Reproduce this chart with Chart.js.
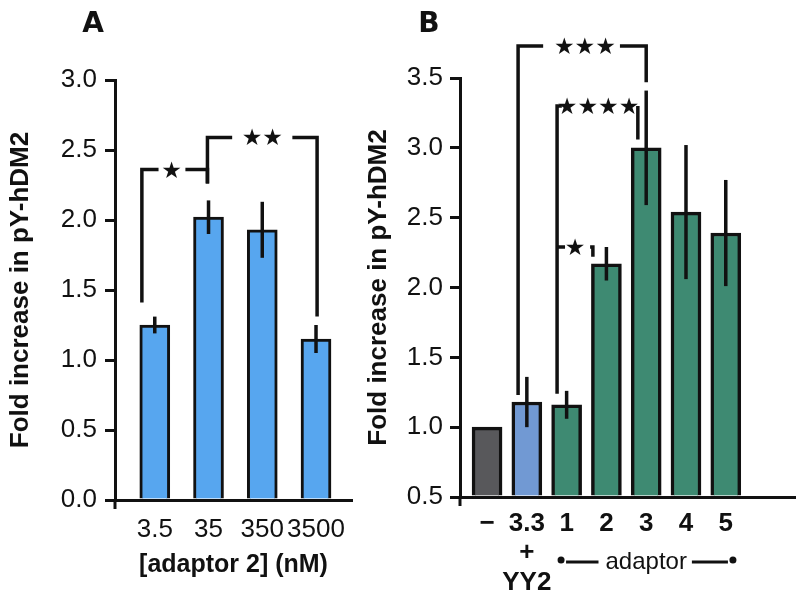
<!DOCTYPE html>
<html>
<head>
<meta charset="utf-8">
<script src="https://cdn.jsdelivr.net/npm/chart.js@4.4.1/dist/chart.umd.min.js"></script>
<style>
  html, body { margin: 0; padding: 0; background: #fff; }
  #wrap { position: relative; width: 800px; height: 599px; overflow: hidden; }
  #chartA { position: absolute; left: 0; top: 0; }
  #chartB { position: absolute; left: 360px; top: 0; }
</style>
</head>
<body>
<div id="wrap">
  <canvas id="chartA" width="360" height="599"></canvas>
  <canvas id="chartB" width="440" height="599"></canvas>
</div>
<script>
// panel A: adaptor 2 dose series
const labelsA = ['3.5', '35', '350', '3500'];
const valuesA = [1.25, 2.02, 1.93, 1.15];
const errorsA = [0.06, 0.12, 0.20, 0.10];
const yTicksA = [0, 0.5, 1, 1.5, 2, 2.5, 3];

// panel B: control, YY2 and adaptors 1-5
const labelsB = [['−'], ['3.3', '+', 'YY2'], ['1'], ['2'], ['3'], ['4'], ['5']];
const valuesB = [1.0, 1.18, 1.16, 2.17, 3.0, 2.54, 2.39];
const errorsB = [0, 0.18, 0.10, 0.12, 0.41, 0.48, 0.38];
const colorsB = ['#58585b', '#7199d3', '#3e8a72', '#3e8a72', '#3e8a72', '#3e8a72', '#3e8a72'];
const yTicksB = [0.5, 1, 1.5, 2, 2.5, 3, 3.5];

// significance brackets, data units:
// [x left, x right, top, left foot, right foot, gap start, gap end, star x, stars]
const bracketsA = [
  [0.76, 1.98, 2.36, 1.41, 2.26, 1.07, 1.57, 1.31, '★'],
  [1.98, 4.02, 2.59, 2.26, 1.31, 2.44, 3.56, 3.0, '★★']
];
const bracketsB = [
  [1.78, 5.0, 3.73, 1.23, 3.47, 2.41, 4.34, 3.46, '★★★'],
  [2.76, 4.79, 3.30, 1.24, 3.06, 2.88, 4.79, 3.79, '★★★★'],
  [2.76, 3.66, 2.29, 2.29, 2.22, 2.96, 3.59, 3.21, '★']
];

const INK = '#111';
Chart.defaults.font.family = "'Liberation Sans', Arial, sans-serif";
Chart.defaults.color = INK;

function makeAnnotate(cfg) {
  return {
    id: 'annotate' + cfg.letter,
    afterDatasetsDraw(chart) {
      const ctx = chart.ctx;
      const xs = chart.scales.x, ys = chart.scales.y;
      const area = chart.chartArea;
      ctx.save();
      ctx.strokeStyle = INK;
      ctx.fillStyle = INK;
      ctx.lineCap = 'butt';
      ctx.lineJoin = 'miter';

      // error bars
      ctx.lineWidth = 3.5;
      cfg.values.forEach((v, i) => {
        const e = cfg.errors[i];
        if (!e) return;
        const px = xs.getPixelForValue(i + 1);
        ctx.beginPath();
        ctx.moveTo(px, ys.getPixelForValue(v + e));
        ctx.lineTo(px, ys.getPixelForValue(v - e));
        ctx.stroke();
      });

      // y axis runs a little below the x axis
      ctx.lineWidth = 3;
      ctx.beginPath();
      ctx.moveTo(area.left, area.bottom);
      ctx.lineTo(area.left, area.bottom + 9);
      ctx.stroke();

      // brackets
      ctx.lineWidth = 3.5;
      ctx.font = "23px 'DejaVu Sans'";
      ctx.textAlign = 'center';
      ctx.textBaseline = 'middle';
      cfg.brackets.forEach(b => {
        const [x1, x2, yt, f1, f2, gl, gr, lx, stars] = b;
        const top = ys.getPixelForValue(yt);
        ctx.beginPath();
        ctx.moveTo(xs.getPixelForValue(x1), ys.getPixelForValue(f1));
        ctx.lineTo(xs.getPixelForValue(x1), top);
        ctx.lineTo(xs.getPixelForValue(gl), top);
        ctx.moveTo(xs.getPixelForValue(gr), top);
        ctx.lineTo(xs.getPixelForValue(x2), top);
        ctx.lineTo(xs.getPixelForValue(x2), ys.getPixelForValue(f2));
        ctx.stroke();
        ctx.fillText(stars, xs.getPixelForValue(lx), top + 2);
      });

      // panel letter
      ctx.font = "bold 28px 'DejaVu Sans'";
      ctx.fillText(cfg.letter, cfg.letterX, 25);

      if (cfg.extra) cfg.extra(chart, ctx);
      ctx.restore();
    }
  };
}

// "•— adaptor —•" row under panel B
function adaptorRow(chart, ctx) {
  const xs = chart.scales.x;
  const base = chart.chartArea.bottom;
  const cx = xs.getPixelForValue(5);
  const left = xs.getPixelForValue(2.86);
  const right = xs.getPixelForValue(7.18);
  ctx.font = "24px 'Liberation Sans', Arial, sans-serif";
  ctx.textAlign = 'center';
  ctx.textBaseline = 'alphabetic';
  const w = ctx.measureText('adaptor').width;
  ctx.fillText('adaptor', cx, base + 72);
  ctx.lineWidth = 3;
  ctx.beginPath();
  ctx.moveTo(left + 5, base + 65);
  ctx.lineTo(cx - w / 2 - 7, base + 65);
  ctx.moveTo(cx + w / 2 + 5, base + 65);
  ctx.lineTo(right - 5, base + 65);
  ctx.stroke();
  [left, right].forEach(px => {
    ctx.beginPath();
    ctx.arc(px, base + 63, 3.5, 0, Math.PI * 2);
    ctx.fill();
  });
}

new Chart(document.getElementById('chartA'), {
  type: 'bar',
  data: {
    datasets: [{
      data: valuesA.map((v, i) => ({ x: i + 1, y: v })),
      backgroundColor: '#57a6ef',
      borderColor: INK,
      borderWidth: 3,
      borderSkipped: 'start',
      barThickness: 30
    }]
  },
  options: {
    responsive: false,
    animation: false,
    layout: { padding: { left: 0, top: 80, right: 7, bottom: 0 } },
    plugins: { legend: { display: false }, tooltip: { enabled: false } },
    scales: {
      x: {
        type: 'linear', min: 0.26, max: 4.67, offset: false,
        afterBuildTicks: s => { s.ticks = labelsA.map((_, i) => ({ value: i + 1 })); },
        afterFit: s => { s.height = 99; },
        grid: { display: false, drawTicks: false },
        border: { color: INK, width: 3 },
        ticks: { autoSkip: false, maxRotation: 0, minRotation: 0, padding: 14, font: { size: 26 }, callback: v => labelsA[v - 1] },
        title: { display: true, text: '[adaptor 2] (nM)', font: { size: 25, weight: 'bold' }, padding: { top: 0, bottom: 19 } }
      },
      y: {
        min: 0, max: 3,
        afterBuildTicks: s => { s.ticks = yTicksA.map(v => ({ value: v })); },
        afterFit: s => { s.width = 115; },
        grid: { drawOnChartArea: false, drawTicks: true, tickLength: 10, color: INK, lineWidth: 3 },
        border: { color: INK, width: 3 },
        ticks: { padding: 8, font: { size: 26 }, callback: v => v.toFixed(1) },
        title: { display: true, text: 'Fold increase in pY-hDM2', font: { size: 26, weight: 'bold' }, padding: { top: 5, bottom: 0 } }
      }
    }
  },
  plugins: [makeAnnotate({ letter: 'A', letterX: 93, values: valuesA, errors: errorsA, brackets: bracketsA })]
});

new Chart(document.getElementById('chartB'), {
  type: 'bar',
  data: {
    datasets: [{
      data: valuesB.map((v, i) => ({ x: i + 1, y: v })),
      backgroundColor: colorsB,
      borderColor: INK,
      borderWidth: 3.5,
      borderSkipped: 'start',
      barThickness: 30,
      base: 0.5
    }]
  },
  options: {
    responsive: false,
    animation: false,
    layout: { padding: { left: 0, top: 78, right: 5, bottom: 0 } },
    plugins: { legend: { display: false }, tooltip: { enabled: false } },
    scales: {
      x: {
        type: 'linear', min: 0.32, max: 8.74, offset: false,
        afterBuildTicks: s => { s.ticks = labelsB.map((_, i) => ({ value: i + 1 })); },
        afterFit: s => { s.height = 102; },
        grid: { display: false, drawTicks: false },
        border: { color: INK, width: 3 },
        ticks: { autoSkip: false, maxRotation: 0, minRotation: 0, padding: 12, font: { size: 26, weight: 'bold', lineHeight: 1.13 }, callback: v => labelsB[v - 1] }
      },
      y: {
        min: 0.5, max: 3.5,
        afterBuildTicks: s => { s.ticks = yTicksB.map(v => ({ value: v })); },
        afterFit: s => { s.width = 100; },
        grid: { drawOnChartArea: false, drawTicks: true, tickLength: 10, color: INK, lineWidth: 3 },
        border: { color: INK, width: 3 },
        ticks: { padding: 7, font: { size: 26 }, callback: v => v.toFixed(1) },
        title: { display: true, text: 'Fold increase in pY-hDM2', font: { size: 26, weight: 'bold' }, padding: { top: 3, bottom: 0 } }
      }
    }
  },
  plugins: [makeAnnotate({ letter: 'B', letterX: 69, values: valuesB, errors: errorsB, brackets: bracketsB, extra: adaptorRow })]
});
</script>
</body>
</html>
